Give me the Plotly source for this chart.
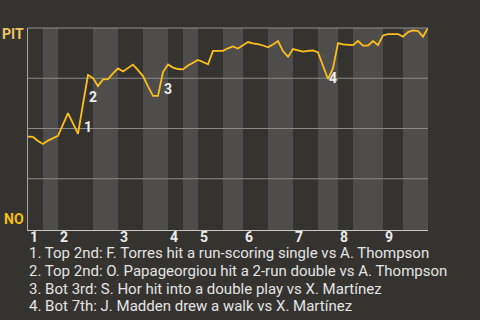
import plotly.graph_objects as go

# Win probability for PIT after each plate appearance (0 = NO wins, 1 = PIT wins)
pa_index = list(range(81))
pit_win_prob = [
    0.46, 0.458, 0.438, 0.423, 0.44, 0.453, 0.463, 0.52, 0.577, 0.525,
    0.473, 0.622, 0.766, 0.751, 0.711, 0.744, 0.746, 0.774, 0.799, 0.784,
    0.80, 0.818, 0.79, 0.761, 0.71, 0.662, 0.662, 0.781, 0.818, 0.803,
    0.796, 0.794, 0.813, 0.828, 0.841, 0.831, 0.819, 0.886, 0.886, 0.886,
    0.899, 0.908, 0.898, 0.915, 0.930, 0.923, 0.92, 0.913, 0.904, 0.918,
    0.935, 0.885, 0.857, 0.895, 0.888, 0.883, 0.886, 0.888, 0.878, 0.811,
    0.746, 0.80, 0.925, 0.918, 0.916, 0.915, 0.935, 0.912, 0.912, 0.935,
    0.915, 0.963, 0.970, 0.970, 0.970, 0.957, 0.980, 0.988, 0.985, 0.957,
    1.0,
]

# Half-inning boundaries (in plate appearances)
half_inning_bounds = [0, 3, 6, 13, 18, 23, 28, 31, 34, 39, 43, 48, 53, 58, 62, 65, 71, 75, 80]
inning_labels = ["1", "2", "3", "4", "5", "6", "7", "8", "9"]

# Key events
event_labels = ["1", "2", "3", "4"]
event_x = [11, 12, 27, 60]
event_label_y = [0.507, 0.657, 0.697, 0.751]
event_texts = [
    "1. Top 2nd: F. Torres hit a run-scoring single vs A. Thompson",
    "2. Top 2nd: O. Papageorgiou hit a 2-run double vs A. Thompson",
    "3. Bot 3rd: S. Hor hit into a double play vs X. Martínez",
    "4. Bot 7th: J. Madden drew a walk vs X. Martínez",
]

team_top = "PIT"
team_bottom = "NO"
gridline_values = [0.25, 0.5, 0.75]

BG = "#353330"
BAND = "#4e4d4b"
LINE = "#fdbf1c"
FONT = "Roboto"

fig = go.Figure()
fig.add_trace(go.Scatter(
    x=pa_index, y=pit_win_prob, mode="lines",
    line=dict(color=LINE, width=1.8), hoverinfo="skip",
))

shapes = []
for i in range(1, len(half_inning_bounds) - 1, 2):
    shapes.append(dict(type="rect", xref="x", yref="paper",
                       x0=half_inning_bounds[i], x1=half_inning_bounds[i + 1],
                       y0=0, y1=1, fillcolor=BAND, line=dict(width=0), layer="below"))
shapes.append(dict(type="line", xref="paper", yref="paper", x0=0, x1=1, y0=1, y1=1,
                   line=dict(color="#8f8f8f", width=1)))
for g in gridline_values:
    shapes.append(dict(type="line", xref="paper", yref="y", x0=0, x1=1, y0=g, y1=g,
                       line=dict(color="#8a8a8a", width=1), layer="between"))

annotations = []
inning_starts = half_inning_bounds[0:-1:2]
for lab, xs in zip(inning_labels, inning_starts):
    annotations.append(dict(x=xs, y=-0.033, xref="x", yref="paper", text=lab,
                            showarrow=False, xanchor="left", yanchor="middle",
                            font=dict(family=FONT, size=14, color="#ececec", weight="bold")))
for lab, ex, ey in zip(event_labels, event_x, event_label_y):
    annotations.append(dict(x=ex, y=ey, xref="x", yref="y", text=lab, showarrow=False,
                            xanchor="left", yanchor="middle", xshift=-1,
                            font=dict(family=FONT, size=14, color="#ececec", weight="bold")))
for k, t in enumerate(event_texts):
    annotations.append(dict(x=0, y=-0.115 - k * 0.0875, xref="paper", yref="paper", text=t,
                            showarrow=False, xanchor="left", yanchor="middle", xshift=-1,
                            font=dict(family=FONT, size=15, color="#e4e4e4")))
annotations.append(dict(x=0, y=0.97, xref="paper", yref="paper", text=team_top,
                        showarrow=False, xanchor="right", yanchor="middle", xshift=-2,
                        font=dict(family=FONT, size=14, color="#f0c362", weight="bold")))
annotations.append(dict(x=0, y=0.053, xref="paper", yref="paper", text=team_bottom,
                        showarrow=False, xanchor="right", yanchor="middle", xshift=-2,
                        font=dict(family=FONT, size=14, color="#f7c00c", weight="bold")))

fig.update_layout(
    width=480, height=320,
    margin=dict(l=28, r=52, t=28, b=90),
    paper_bgcolor=BG, plot_bgcolor=BG,
    showlegend=False,
    shapes=shapes, annotations=annotations,
    xaxis=dict(range=[0, 80], showgrid=False, zeroline=False, showticklabels=False,
               ticks="", showline=True, linecolor="#c8c8c8", linewidth=1, fixedrange=True),
    yaxis=dict(range=[-0.005, 1.0], showgrid=False, zeroline=False, showticklabels=False,
               ticks="", showline=True, linecolor="#a8a8a8", linewidth=1, fixedrange=True),
)

fig.write_html("out.html", config={"displayModeBar": False})
